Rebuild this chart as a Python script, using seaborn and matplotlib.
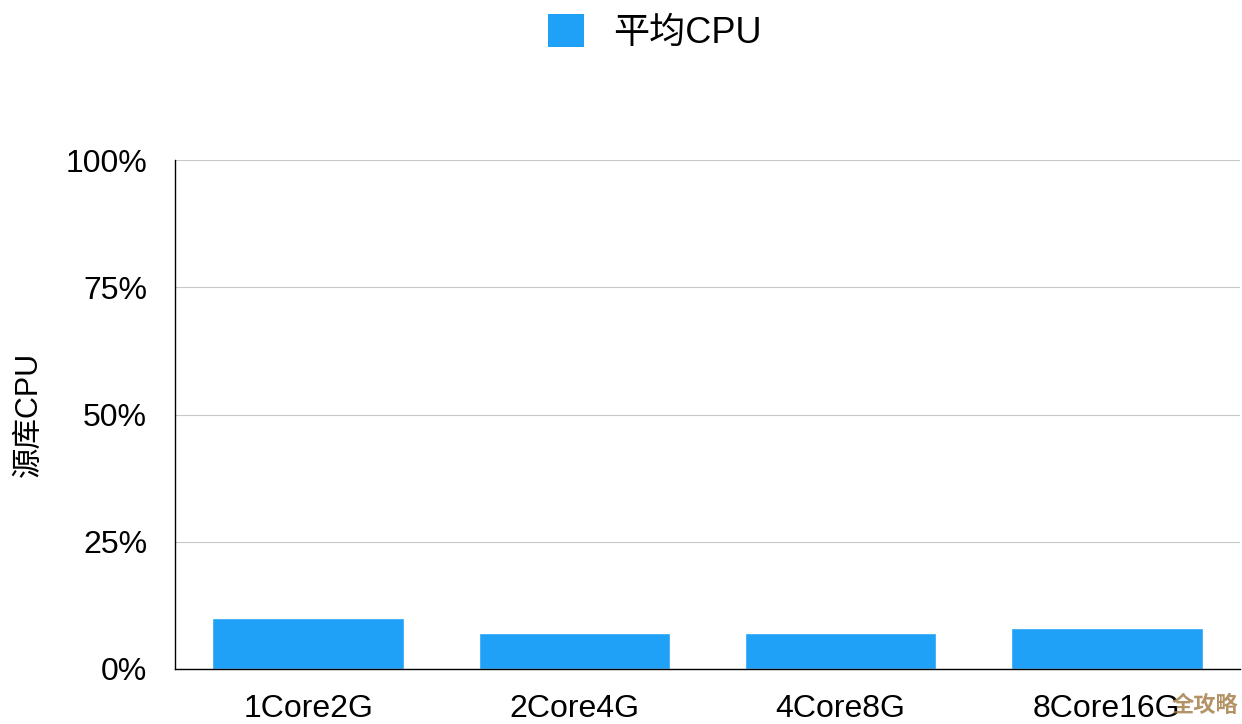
import matplotlib
matplotlib.use("Agg")
import matplotlib.pyplot as plt
import seaborn as sns
import pandas as pd
from matplotlib.patches import Patch

categories = ["1Core2G", "2Core4G", "4Core8G", "8Core16G"]
avg_cpu = [10, 7, 7, 8]
yticks = [0, 25, 50, 75, 100]
ytick_labels = ["0%", "25%", "50%", "75%", "100%"]
series_name = "平均CPU"
ylabel = "源库CPU"

sns.set_theme(style="white")
plt.rcParams['font.family'] = ['Liberation Sans', 'Noto Sans CJK SC', 'DejaVu Sans']
plt.rcParams['text.color'] = 'black'
plt.rcParams['xtick.color'] = 'black'
plt.rcParams['ytick.color'] = 'black'
plt.rcParams['axes.labelcolor'] = 'black'

df = pd.DataFrame({"cat": categories, "val": avg_cpu})
color = "#1ea1f7"

fig = plt.figure(figsize=(12.42, 7.24), dpi=100)
ax = fig.add_axes([175/1242, 1-669/724, (1240-175)/1242, (669-160)/724])
sns.barplot(data=df, x="cat", y="val", color=color, width=0.72, saturation=1, ax=ax)

ax.set_ylim(0, 100)
ax.set_yticks(yticks)
ax.set_yticklabels(ytick_labels, fontsize=23)
ax.tick_params(axis='y', length=0, pad=20)
ax.tick_params(axis='x', length=0, pad=18, labelsize=23)
ax.set_xlabel("")
ax.set_ylabel(ylabel, fontsize=22, labelpad=16)
ax.yaxis.grid(True, color="#c8c8c8", linewidth=0.8)
ax.set_axisbelow(True)
for s in ["top", "right"]:
    ax.spines[s].set_visible(False)
for s in ["left", "bottom"]:
    ax.spines[s].set_color("black")
    ax.spines[s].set_linewidth(1.0)

handles = [Patch(facecolor=color, edgecolor="none", label=series_name)]
fig.legend(handles=handles, loc="upper center", bbox_to_anchor=(0.527, 1.025),
           frameon=False, fontsize=26, handlelength=1.0, handleheight=1.0,
           handletextpad=0.8)

fig.text(0.997, 0.01, "全攻略", ha="right", va="bottom", fontsize=16,
         color="#a07840", alpha=0.8, fontweight="bold")

fig.savefig("out.png", dpi=100)
